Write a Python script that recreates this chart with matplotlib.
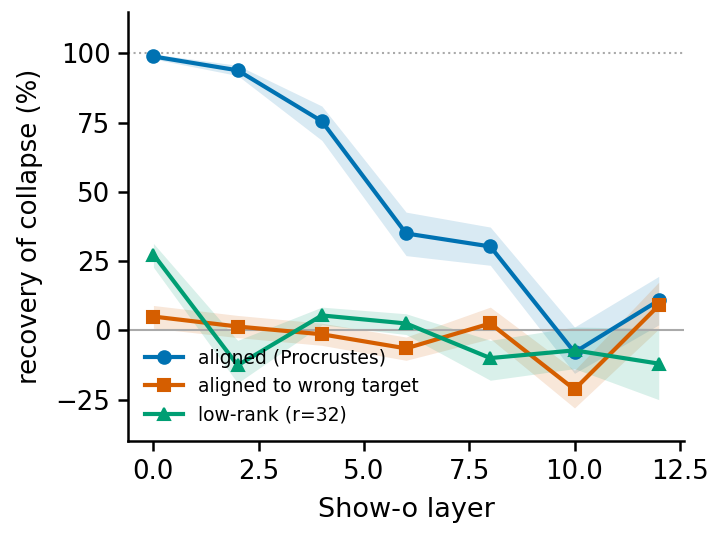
import numpy as np
import matplotlib
matplotlib.use("Agg")
import matplotlib.pyplot as plt

layers = [0, 2, 4, 6, 8, 10, 12]

aligned = [98.9, 93.9, 75.5, 35.0, 30.3, -7.9, 10.8]
aligned_lo = [98.0, 92.0, 68.6, 27.0, 23.5, -15.5, 2.0]
aligned_hi = [99.8, 95.7, 81.0, 42.7, 37.3, 1.2, 19.5]

wrong = [5.0, 1.4, -1.4, -6.5, 2.5, -21.3, 9.0]
wrong_lo = [0.8, -2.6, -5.4, -10.8, -3.0, -28.0, 0.5]
wrong_hi = [9.0, 5.4, 2.6, -2.4, 8.4, -14.4, 17.4]

lowrank = [27.4, -12.6, 5.4, 2.5, -10.0, -7.2, -12.0]
lowrank_lo = [22.8, -19.0, 2.0, -1.5, -18.0, -13.8, -25.0]
lowrank_hi = [31.4, -3.6, 8.4, 6.0, -3.6, 1.2, 0.7]

xticks = [0, 2.5, 5, 7.5, 10, 12.5]
yticks = [-25, 0, 25, 50, 75, 100]

series = [
    ("aligned (Procrustes)", aligned, aligned_lo, aligned_hi, "#0072B2", "o"),
    ("aligned to wrong target", wrong, wrong_lo, wrong_hi, "#D55E00", "s"),
    ("low-rank (r=32)", lowrank, lowrank_lo, lowrank_hi, "#009E73", "^"),
]

fig, ax = plt.subplots(figsize=(4.8, 3.6), dpi=150)
fig.subplots_adjust(left=0.178, right=0.95, top=0.978, bottom=0.183)

ax.axhline(100, color="#aaaaaa", lw=1, ls=":")
ax.axhline(0, color="#aaaaaa", lw=1)

for label, y, lo, hi, c, m in series:
    ax.fill_between(layers, lo, hi, color=c, alpha=0.15, lw=0)
    ax.plot(layers, y, color=c, marker=m, lw=2, ms=6, label=label)

ax.set_ylim(-40, 115)
ax.set_xticks(xticks)
ax.set_xticklabels(["%.1f" % t for t in xticks])
ax.set_yticks(yticks)
ax.tick_params(labelsize=12.5, length=5, width=1.2)
ax.set_xlabel("Show-o layer", fontsize=13, labelpad=6)
ax.set_ylabel("recovery of collapse (%)", fontsize=12.5, labelpad=6)
ax.spines["top"].set_visible(False)
ax.spines["right"].set_visible(False)
for s in ["left", "bottom"]:
    ax.spines[s].set_linewidth(1.2)
ax.legend(loc="lower left", frameon=False, fontsize=9)

fig.savefig("out.png", dpi=150)
